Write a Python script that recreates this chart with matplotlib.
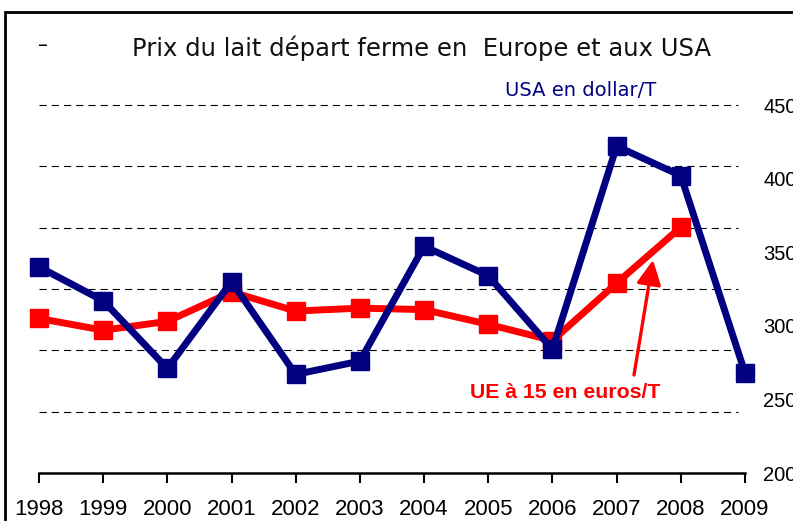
import numpy as np
import matplotlib.pyplot as plt
from matplotlib.patches import Rectangle

years = [1998, 1999, 2000, 2001, 2002, 2003, 2004, 2005, 2006, 2007, 2008, 2009]
usa = [340, 317, 271, 330, 267, 276, 354, 334, 284, 422, 402, 268]
ue_years = years[:-1]
ue = [305, 297, 303, 323, 310, 312, 311, 301, 290, 329, 367]
y_ticks = [200, 250, 300, 350, 400, 450]

W, H = 793, 521
fig = plt.figure(figsize=(W / 100, H / 100), dpi=100)
ax = fig.add_axes([39 / W, 1 - 473 / H, (745 - 39) / W, (473 - 105) / H])

ax.set_xlim(1998, 2009)
ax.set_ylim(200, 450)

# dashed grid lines (6 intervals, not matching the labels)
for g in np.linspace(200, 450, 7)[1:]:
    ax.axhline(g, xmax=0.99, color="black", lw=0.8, ls=(0, (6.5, 4.5)),
               clip_on=False, zorder=1)

ax.plot(ue_years, ue, color="#ff0000", lw=5, marker="s", ms=12.5,
        clip_on=False, zorder=3)
ax.plot(years, usa, color="#000080", lw=5, marker="s", ms=12.5,
        clip_on=False, zorder=4)

for s in ["left", "top", "right"]:
    ax.spines[s].set_visible(False)
ax.spines["bottom"].set_linewidth(1.8)

ax.set_xticks(years)
ax.set_xticklabels([str(y) for y in years], fontsize=16, family="Liberation Sans")
ax.tick_params(axis="x", direction="out", length=7, width=1.5, pad=12)

ax.yaxis.tick_right()
ax.set_yticks(y_ticks)
ax.set_yticklabels([str(v) for v in y_ticks], fontsize=14.5, family="Liberation Sans")
ax.tick_params(axis="y", length=0, pad=13)

fig.text(422 / W, 1 - 48 / H, "Prix du lait départ ferme en  Europe et aux USA",
         ha="center", va="center", fontsize=17.5, color="#111111", family="DejaVu Sans")
fig.text(581 / W, 1 - 90 / H, "USA en dollar/T", ha="center", va="center",
         fontsize=14, color="#000080", family="DejaVu Sans")
fig.text(565 / W, 1 - 393 / H, "UE à 15 en euros/T", ha="center", va="center",
         fontsize=15.3, color="#ff0000", fontweight="bold", family="Liberation Sans")
fig.text(43 / W, 1 - 45 / H, "–", ha="center", va="center", fontsize=14, color="black")

ax.annotate("", xy=(653, H - 260), xycoords="figure pixels",
            xytext=(634, H - 375), textcoords="figure pixels",
            arrowprops=dict(arrowstyle="-|>,head_length=1.5,head_width=0.75",
                            color="#ff0000", lw=2.4, shrinkA=0, shrinkB=0))

fig.patches.append(Rectangle((5 / W, -0.1), 1.2, 1.1 - 12 / H, transform=fig.transFigure,
                             fill=False, lw=2, edgecolor="black"))

fig.savefig("out.png", dpi=100)
